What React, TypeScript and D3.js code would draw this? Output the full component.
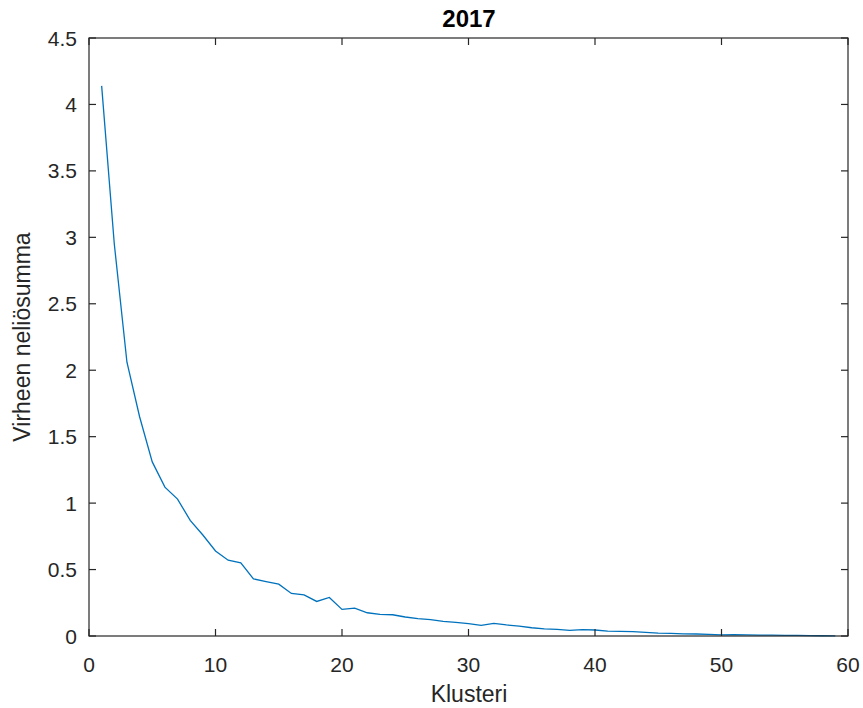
import React from "react";
import * as d3 from "d3";

const clusters: number[] = Array.from({ length: 59 }, (_, i) => i + 1);
const errorSum: number[] = [
  4.14, 2.95, 2.06, 1.65, 1.31, 1.12, 1.03, 0.87, 0.76, 0.64,
  0.57, 0.55, 0.43, 0.41, 0.39, 0.32, 0.31, 0.26, 0.29, 0.2,
  0.21, 0.175, 0.163, 0.16, 0.143, 0.13, 0.123, 0.11, 0.103, 0.093,
  0.08, 0.095, 0.083, 0.075, 0.062, 0.053, 0.05, 0.043, 0.048, 0.045,
  0.037, 0.035, 0.033, 0.028, 0.022, 0.02, 0.016, 0.015, 0.012, 0.009,
  0.01, 0.008, 0.007, 0.006, 0.005, 0.004, 0.003, 0.002, 0.001,
];
const xTicks: number[] = [0, 10, 20, 30, 40, 50, 60];
const yTicks: number[] = [0, 0.5, 1, 1.5, 2, 2.5, 3, 3.5, 4, 4.5];
const title = "2017";
const xLabel = "Klusteri";
const yLabel = "Virheen neliösumma";

export default function App() {
  const W = 863, H = 708;
  const left = 89, right = 848, top = 38, bottom = 636;
  const x = d3.scaleLinear().domain([0, 60]).range([left, right]);
  const y = d3.scaleLinear().domain([0, 4.5]).range([bottom, top]);
  const line = d3.line<number>().x((_, i) => x(clusters[i])).y((d) => y(d));
  const axisColor = "#262626";
  const font = "'Liberation Sans', Arial, Helvetica, sans-serif";
  const tl = 7;
  return (
    <svg width={W} height={H} style={{ position: "absolute", left: 0, top: 0, background: "#fff" }}>
      <rect x={0} y={0} width={W} height={H} fill="#fff" />
      <path d={line(errorSum) || ""} fill="none" stroke="#0072BD" strokeWidth={1.3} />
      <rect x={left} y={top} width={right - left} height={bottom - top} fill="none" stroke={axisColor} strokeWidth={1.2} />
      {xTicks.map((t) => (
        <g key={"x" + t}>
          <line x1={x(t)} x2={x(t)} y1={bottom} y2={bottom - tl} stroke={axisColor} strokeWidth={1.2} />
          <line x1={x(t)} x2={x(t)} y1={top} y2={top + tl} stroke={axisColor} strokeWidth={1.2} />
          <text x={x(t)} y={672} textAnchor="middle" fontFamily={font} fontSize={21} fill={axisColor}>
            {t}
          </text>
        </g>
      ))}
      {yTicks.map((t) => (
        <g key={"y" + t}>
          <line x1={left} x2={left + tl} y1={y(t)} y2={y(t)} stroke={axisColor} strokeWidth={1.2} />
          <line x1={right} x2={right - tl} y1={y(t)} y2={y(t)} stroke={axisColor} strokeWidth={1.2} />
          <text x={77} y={y(t)} dy="0.36em" textAnchor="end" fontFamily={font} fontSize={21} fill={axisColor}>
            {t}
          </text>
        </g>
      ))}
      <text x={469} y={27} textAnchor="middle" fontFamily={font} fontSize={24} fontWeight="bold" fill="#000">
        {title}
      </text>
      <text x={469} y={702} textAnchor="middle" fontFamily={font} fontSize={23} fill={axisColor}>
        {xLabel}
      </text>
      <text transform={`translate(30, ${(top + bottom) / 2}) rotate(-90)`} textAnchor="middle" fontFamily={font} fontSize={23} fill={axisColor}>
        {yLabel}
      </text>
    </svg>
  );
}
